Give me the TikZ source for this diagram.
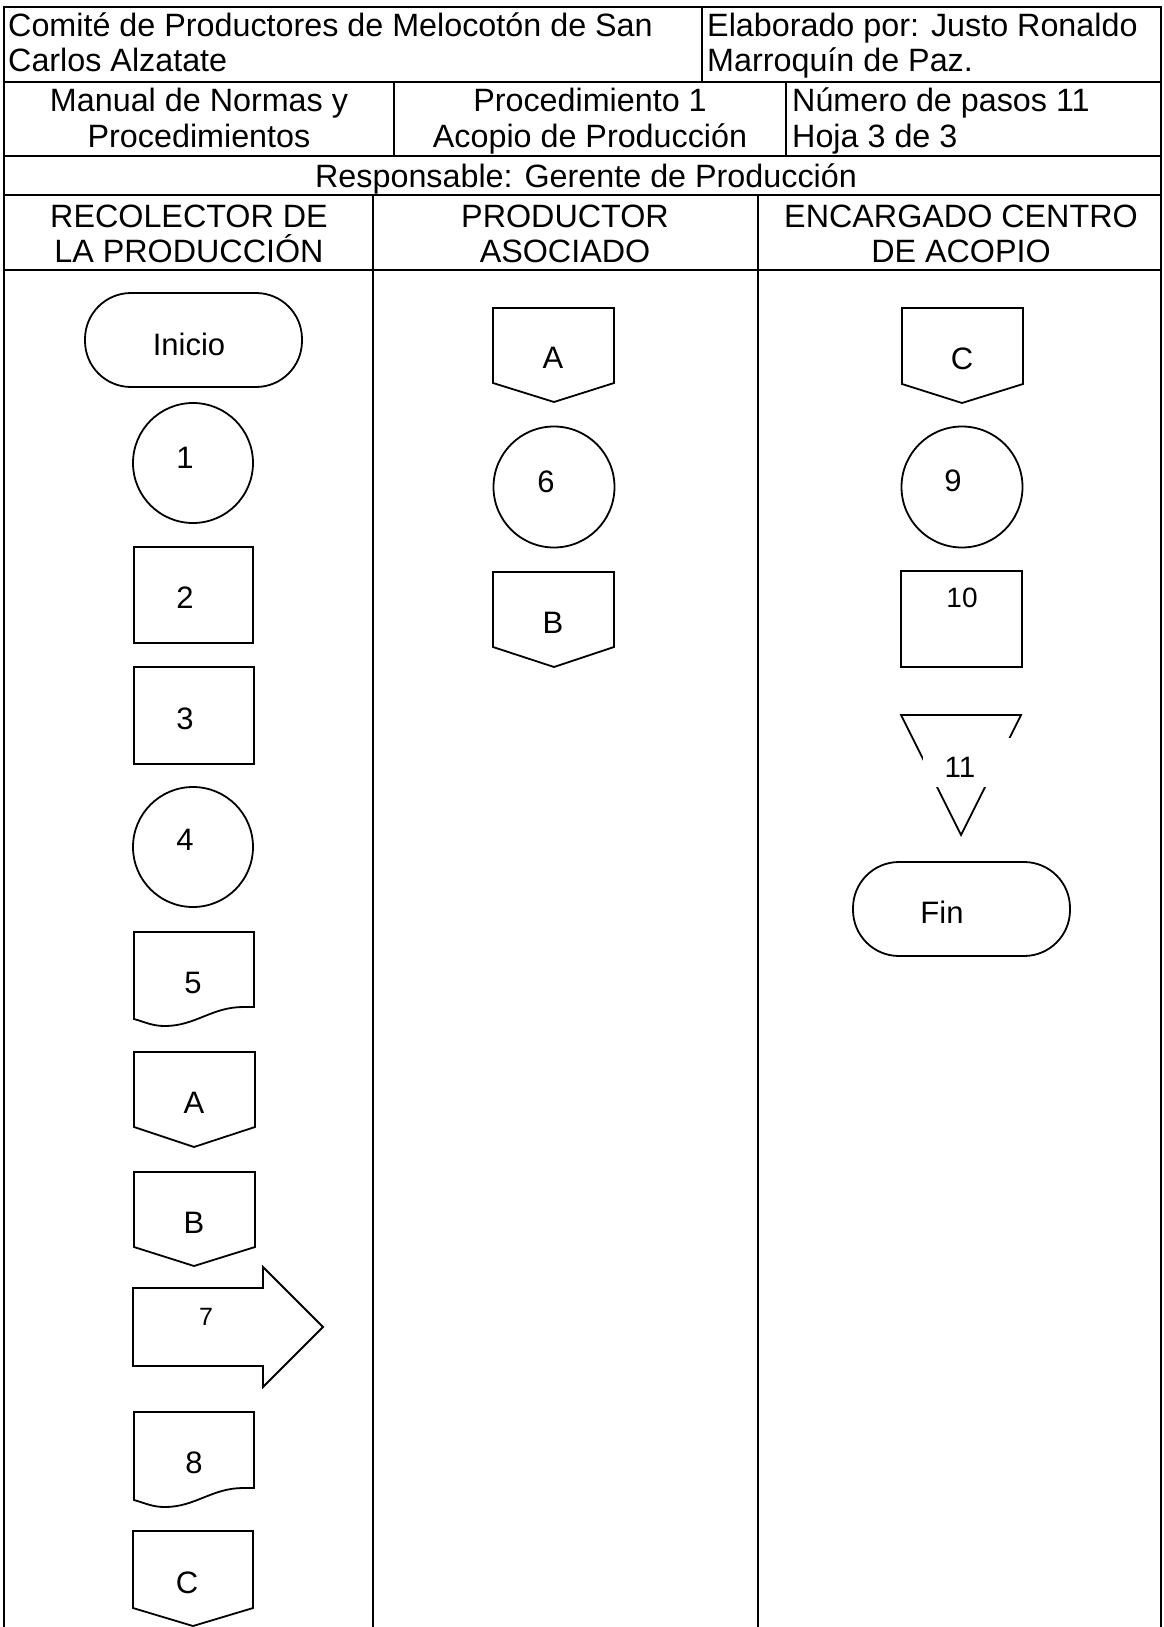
\documentclass[tikz,border=0pt]{standalone}
\usepackage{fontspec}
\setmainfont{Liberation Sans}
\begin{document}
\begin{tikzpicture}[x=1pt,y=-1pt,
  tbl/.style={line width=2pt},
  shp/.style={draw, line width=1.8pt, line join=miter},
  txt/.style={inner sep=0pt, font=\fontsize{32.3}{35}\selectfont},
  lbl/.style={inner sep=0pt, font=\fontsize{31}{35}\selectfont},
  lblsm/.style={inner sep=0pt, font=\fontsize{28}{30}\selectfont},
  lblmd/.style={inner sep=0pt, font=\fontsize{29.5}{32}\selectfont},
  lblxs/.style={inner sep=0pt, font=\fontsize{25}{28}\selectfont}]
\useasboundingbox (0,0) rectangle (1163,1627);

% ---------- table ----------
\draw[tbl] (4,7) -- (1161,7);
\draw[tbl] (4,82) -- (1161,82);
\draw[tbl] (4,156) -- (1161,156);
\draw[tbl] (4,195) -- (1161,195);
\draw[tbl] (4,270) -- (1161,270);
\draw[tbl] (4,6) -- (4,1627);
\draw[tbl] (1161,6) -- (1161,1627);
\draw[tbl] (702,7) -- (702,82);
\draw[tbl] (394,82) -- (394,156);
\draw[tbl] (786,82) -- (786,156);
\draw[tbl] (373,195) -- (373,1627);
\draw[tbl] (758,195) -- (758,1627);

% header texts
\node[txt, anchor=base west] (h1a) at (8,37) {Comité de Productores de Melocotón de San};
\node[txt, anchor=base west] (h1b) at (8,72) {Carlos Alzatate};
\node[txt, anchor=base west] (h2a) at (707,37) {Elaborado por: Justo Ronaldo};
\node[txt, anchor=base west] (h2b) at (707,72) {Marroquín de Paz.};
\node[txt, anchor=base] (m1a) at (199,112) {Manual de Normas y};
\node[txt, anchor=base] (m1b) at (199,147) {Procedimientos};
\node[txt, anchor=base] (m2a) at (590,112) {Procedimiento 1};
\node[txt, anchor=base] (m2b) at (590,147) {Acopio de Producción};
\node[txt, anchor=base west] (m3a) at (792,112) {Número de pasos 11};
\node[txt, anchor=base west] (m3b) at (792,147) {Hoja 3 de 3};
\node[txt, anchor=base] (resp) at (586,187) {Responsable: Gerente de Producción};
\node[txt, anchor=base] (ln1a) at (189,227) {RECOLECTOR DE};
\node[txt, anchor=base] (ln1b) at (189,262) {LA PRODUCCIÓN};
\node[txt, anchor=base] (ln2a) at (565,227) {PRODUCTOR};
\node[txt, anchor=base] (ln2b) at (565,262) {ASOCIADO};
\node[txt, anchor=base] (ln3a) at (961,227) {ENCARGADO CENTRO};
\node[txt, anchor=base] (ln3b) at (961,262) {DE ACOPIO};

% ---------- lane 1 ----------
\draw[shp, rounded corners=46pt] (85,293) rectangle (302,387);
\node[lbl] (inicio) at (189,344) {Inicio};

\node[shp, circle, minimum size=120pt, inner sep=0pt] (c1) at (193,463) {};
\node[lbl] (l1) at (185,458) {1};

\draw[shp] (134,547) rectangle (253,643);
\node[lbl] (l2) at (185,598) {2};

\draw[shp] (134,667) rectangle (254,764);
\node[lbl] (l3) at (185,719) {3};

\node[shp, circle, minimum size=120pt, inner sep=0pt] (c4) at (193,847) {};
\node[lbl] (l4) at (185,840) {4};

\draw[shp] (254,1007) -- (254,932) -- (134,932) -- (134,1019)
  .. controls (145,1022) and (152,1026) .. (165,1026)
  .. controls (195,1026) and (212,1007) .. (243,1007) -- cycle;
\node[lbl] (l5) at (193,983) {5};

\draw[shp] (134,1052) -- (255,1052) -- (255,1127) -- (194,1147) -- (134,1127) -- cycle;
\node[lbl] (lA1) at (194,1103) {A};

\draw[shp] (134,1172) -- (255,1172) -- (255,1247) -- (194,1266) -- (134,1247) -- cycle;
\node[lbl] (lB1) at (194,1223) {B};

\draw[shp] (133,1288) -- (263,1288) -- (263,1267) -- (323,1327) -- (263,1387) -- (263,1366) -- (133,1366) -- cycle;
\node[lblxs] (l7) at (206,1317) {7};

\draw[shp] (254,1488) -- (254,1412) -- (134,1412) -- (134,1500)
  .. controls (145,1503) and (152,1507) .. (165,1507)
  .. controls (195,1507) and (212,1488) .. (243,1488) -- cycle;
\node[lbl] (l8) at (194,1463) {8};

\draw[shp] (133,1531) -- (253,1531) -- (253,1608) -- (193,1626) -- (133,1608) -- cycle;
\node[lbl] (lC1) at (187,1583) {C};

% ---------- lane 2 ----------
\draw[shp] (493,308) -- (614,308) -- (614,383) -- (554,402) -- (493,383) -- cycle;
\node[lbl] (lA2) at (553,358) {A};

\node[shp, circle, minimum size=121pt, inner sep=0pt] (c6) at (554,487) {};
\node[lbl] (l6) at (546,482) {6};

\draw[shp] (493,572) -- (614,572) -- (614,647) -- (554,667) -- (493,647) -- cycle;
\node[lbl] (lB2) at (553,623) {B};

% ---------- lane 3 ----------
\draw[shp] (902,308) -- (1023,308) -- (1023,384) -- (962,403) -- (902,384) -- cycle;
\node[lbl] (lC3) at (962,359) {C};

\node[shp, circle, minimum size=121pt, inner sep=0pt] (c9) at (962,487) {};
\node[lbl] (l9) at (953,481) {9};

\draw[shp] (901,571) rectangle (1022,667);
\node[lblsm] (l10) at (962,598) {10};

\draw[shp] (901,715) -- (1021,715) -- (961,835) -- cycle;
\fill[white] (923,738) rectangle (1012,787);
\node[lblmd] (l11) at (960,767) {11};

\draw[shp, rounded corners=46pt] (853,862) rectangle (1070,956);
\node[lbl] (fin) at (942,912) {Fin};

\end{tikzpicture}
\end{document}
